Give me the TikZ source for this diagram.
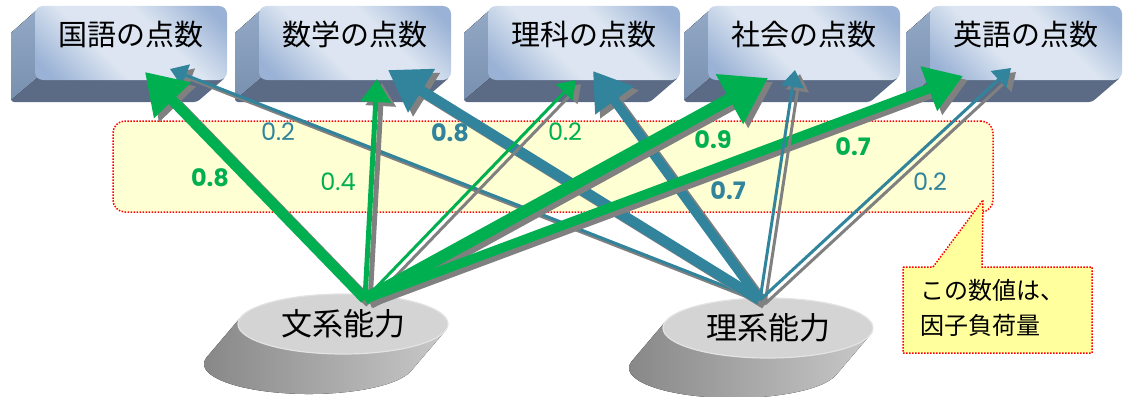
\documentclass[tikz,border=0pt]{standalone}
\usepackage{fontspec}
\setmainfont{Noto Sans CJK JP}
\newfontfamily\numfont{Poppins}
\usetikzlibrary{arrows.meta,shapes.geometric}
\definecolor{grn}{HTML}{00B050}
\definecolor{tea}{HTML}{31849B}
\definecolor{shd}{HTML}{808080}
\definecolor{bandfill}{HTML}{FFFFD4}
\definecolor{notefill}{HTML}{FFFF9E}
\definecolor{faceD}{HTML}{9AB2D5}
\definecolor{faceL}{HTML}{DCE5F1}
\definecolor{sideT}{HTML}{93A9C6}
\definecolor{sideB}{HTML}{7890AF}
\definecolor{botF}{HTML}{5B6B85}
\definecolor{ellT}{HTML}{D4D4D4}
\definecolor{ellR}{HTML}{E3E3E3}
\definecolor{bodyL}{HTML}{858585}
\definecolor{bodyR}{HTML}{C8C8C8}
\pgfdeclarehorizontalshading{faceshade}{100bp}{color(0bp)=(faceD); color(20bp)=(faceD); color(40bp)=(faceL); color(60bp)=(faceL); color(80bp)=(faceD); color(100bp)=(faceD)}
\tikzset{
  facebox/.style={rectangle, rounded corners=8pt, minimum width=192pt, minimum height=74pt,
    inner sep=0pt, text height=25pt, text depth=20pt, font=\fontsize{29}{32}\selectfont,
    shading=faceshade, shading angle=45},
  ability/.style={ellipse, minimum width=210pt, minimum height=60pt, inner sep=0pt,
    fill=ellT, draw=ellR, line width=1.2pt, font=\fontsize{31}{33}\selectfont},
  ld/.style={line width=#1pt, -{Triangle[length=8pt 3, width=12pt 3.5]}},
  shadowline/.style={draw=shd, transform canvas={xshift=5pt, yshift=-4pt}},
  lab/.style={font=\numfont\fontsize{24}{26}\selectfont, inner sep=0pt},
  labb/.style={font=\numfont\bfseries\fontsize{24}{26}\selectfont, inner sep=0pt},
  band/.style={rectangle, rounded corners=12pt, minimum width=880pt, minimum height=91pt,
    fill=bandfill, draw=red, line width=1.5pt, dash pattern=on 1.5pt off 1.5pt},
  notebox/.style={fill=notefill, draw=red, line width=1.5pt, dash pattern=on 1.5pt off 1.5pt},
}
\newcommand{\scorebox}[3]{%
  \fill[botF, rounded corners=3pt] (#2+3,9) -- (#2-24,33) -- (#2-24,102) -- (#2+162,102) -- (#2+191,77) -- (#2+3,77) -- cycle;
  \fill[top color=sideT, bottom color=sideB] (#2+3,9) -- (#2-24,33) -- (#2-24,100) -- (#2+2,78) -- cycle;
  \node[facebox] (#1) at (#2+96,43) {#3};
}
\newcommand{\abilitybody}[2]{%
  \fill[left color=bodyL, right color=bodyR] (#1+102,#2+7.1) -- (#1+68,#2+47.1)
    arc[start angle=13.65, end angle=193.65, x radius=105, y radius=30] -- (#1-102,#2-7.1) -- cycle;
}
\newcommand{\loadarrow}[4]{%
  \draw[shadowline, ld=#2] (#3) -- (#4);
  \draw[draw=#1, ld=#2] (#3) -- (#4);
}
\begin{document}
\begin{tikzpicture}[x=1pt, y=-1pt]
\useasboundingbox (0,0) rectangle (1129,396);
% score boxes
\scorebox{kokugo}{35}{国語の点数}
\scorebox{sugaku}{259}{数学の点数}
\scorebox{rika}{488}{理科の点数}
\scorebox{shakai}{708}{社会の点数}
\scorebox{eigo}{930}{英語の点数}
% yellow band
\node[band] (bandbox) at (553,166.5) {};
% ability ellipses
\abilitybody{343}{324}
\node[ability] (bunkei) at (343,324) {文系能力};
\abilitybody{768}{328}
\node[ability] (rikei) at (768,328) {理系能力};
% sources and targets
\coordinate (bS) at (365,299);
\coordinate (rS) at (760,300);
\coordinate (gK) at (145,72);
\coordinate (gM) at (377,79);
\coordinate (gR) at (576,80);
\coordinate (gSh) at (768,78);
\coordinate (gE) at (963,76);
\coordinate (tK) at (170,69);
\coordinate (tM) at (388,70);
\coordinate (tR) at (593,71);
\coordinate (tSh) at (795,70);
\coordinate (tE) at (1011,68);
% arrows
\loadarrow{tea}{3}{rS}{tK}
\loadarrow{tea}{10.5}{rS}{tM}
\loadarrow{tea}{9.5}{rS}{tR}
\loadarrow{grn}{10.5}{bS}{gK}
\loadarrow{grn}{5}{bS}{gM}
\loadarrow{grn}{3}{bS}{gR}
\loadarrow{grn}{12}{bS}{gSh}
\loadarrow{grn}{9.5}{bS}{gE}
\loadarrow{tea}{3}{rS}{tSh}
\loadarrow{tea}{3}{rS}{tE}
% labels
\node[labb, text=grn] (l1) at (210,178) {0.8};
\node[lab, text=tea] (l2) at (278,132) {0.2};
\node[lab, text=grn] (l3) at (338,182) {0.4};
\node[labb, text=tea] (l4) at (450,133) {0.8};
\node[lab, text=grn] (l5) at (565,132) {0.2};
\node[labb, text=grn] (l6) at (713,140) {0.9};
\node[labb, text=tea] (l7) at (728,191) {0.7};
\node[labb, text=grn] (l8) at (853,147) {0.7};
\node[lab, text=tea] (l9) at (930,182) {0.2};
% callout
\filldraw[notebox] (903,267) -- (933,267) -- (983,200) -- (982,267) -- (1092,267) -- (1092,353) -- (903,353) -- cycle;
\node[anchor=north west, align=left, inner sep=0pt, font=\fontsize{24}{35}\selectfont] (note) at (920,279) {この数値は、\\因子負荷量};
\end{tikzpicture}
\end{document}
